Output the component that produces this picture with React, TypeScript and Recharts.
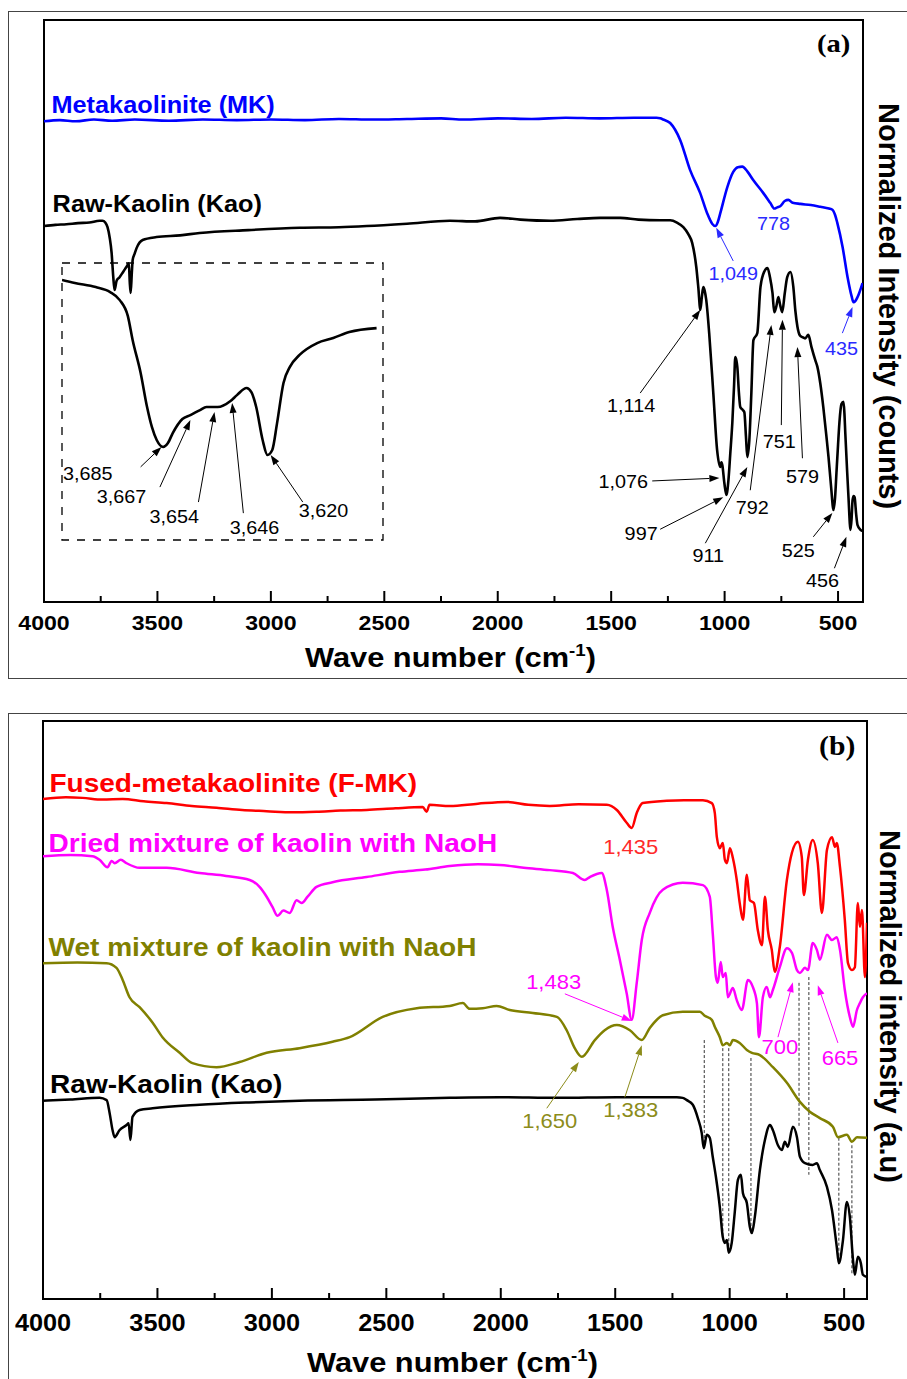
import React from 'react';
import {
    LineChart,
    Line,
    XAxis,
    YAxis,
    ReferenceArea,
    ReferenceLine,
    ReferenceDot,
} from 'recharts';

type Pt = [number, number];

// ---- panel (a): wavenumber (cm-1), normalized intensity (0-100) ----
const metakaolinite: Pt[] = [
    [4000, 82.6], [3930, 82.8], [3860, 82.6], [3780, 82.9], [3700, 82.7], [3600, 82.9],
    [3450, 82.7], [3300, 82.9], [3150, 82.8], [3000, 82.9], [2850, 82.8], [2700, 83.0],
    [2550, 82.9], [2400, 83.0], [2250, 83.1], [2150, 82.9], [2000, 83.1], [1850, 83.0],
    [1700, 83.2], [1550, 83.1], [1400, 83.2], [1300, 83.2], [1284, 83.1], [1271, 82.9],
    [1240, 82.3], [1196, 79.4], [1152, 74.2], [1108, 70.3], [1077, 66.8], [1055, 65.0],
    [1041, 64.6], [1030, 65.3], [1019, 66.8], [988, 71.3], [962, 73.9], [942, 74.7],
    [922, 74.8], [900, 74.0], [874, 72.5], [830, 70.3], [799, 68.6], [781, 67.6],
    [768, 67.8], [755, 68.0], [735, 68.9], [719, 69.1], [700, 68.6], [666, 68.4],
    [620, 68.2], [578, 67.9], [540, 67.6], [525, 67.4], [513, 66.5], [503, 65.1],
    [480, 61.0], [458, 55.8], [440, 52.5], [432, 51.5], [424, 51.7], [414, 52.4],
    [392, 54.8],
];

const rawKaolinA: Pt[] = [
    [4000, 64.6], [3950, 64.8], [3901, 64.9], [3850, 65.1], [3800, 65.2], [3755, 65.5],
    [3742, 65.5], [3730, 65.2], [3720, 64.4], [3710, 62.5], [3702, 60.0], [3695, 56.0],
    [3689, 53.6], [3680, 55.2], [3667, 55.8], [3650, 56.8], [3636, 57.6], [3626, 58.2],
    [3622, 55.0], [3618, 53.1], [3613, 56.5], [3609, 58.8], [3600, 59.9], [3592, 60.8],
    [3565, 62.2], [3504, 62.7], [3400, 63.0], [3314, 63.4], [3100, 63.9], [2872, 64.3],
    [2700, 64.4], [2577, 64.6], [2400, 65.0], [2211, 65.5], [2100, 65.4], [1990, 66.0],
    [1900, 65.7], [1769, 65.5], [1650, 65.8], [1549, 66.0], [1460, 66.0], [1380, 65.7],
    [1284, 65.6], [1240, 65.6], [1210, 65.2], [1182, 64.4], [1160, 63.2], [1143, 61.7],
    [1125, 57.6], [1116, 54.1], [1107, 50.2], [1100, 52.5], [1094, 54.1], [1088, 53.5],
    [1081, 51.9], [1068, 46.2], [1050, 36.0], [1033, 26.1], [1019, 23.2], [1014, 24.0],
    [1010, 23.5], [1001, 20.4], [992, 18.4], [983, 21.0], [975, 25.5], [966, 30.8],
    [958, 37.5], [953, 42.1], [948, 41.5], [944, 40.4], [937, 36.0], [931, 33.5],
    [920, 33.0], [913, 32.6], [906, 28.5], [900, 24.9], [891, 27.8], [882, 36.0],
    [873, 45.0], [856, 46.2], [842, 54.1], [825, 56.8], [811, 57.4], [800, 55.8],
    [789, 53.1], [781, 49.8], [772, 50.8], [763, 52.4], [755, 51.0], [746, 49.8],
    [735, 53.0], [724, 55.8], [710, 56.7], [697, 54.1], [688, 50.0], [679, 47.3],
    [668, 45.8], [657, 45.5], [645, 45.3], [631, 45.9], [617, 43.8], [600, 41.5],
    [591, 40.4], [578, 37.5], [565, 33.5], [550, 28.0], [542, 24.9], [530, 19.5],
    [520, 15.8], [513, 18.0], [507, 22.2], [500, 27.0], [494, 30.8], [485, 34.0],
    [476, 34.4], [472, 32.5], [468, 29.0], [460, 22.5], [454, 18.0], [445, 12.4],
    [440, 14.5], [436, 17.5], [431, 18.2], [427, 18.0], [420, 15.0], [414, 13.2],
    [401, 12.4], [390, 12.2],
];

// inset: OH stretching region of raw kaolin, magnified
const insetKaolin: Pt[] = [
    [3748, 93.9], [3740, 92.8], [3727, 91.3], [3718, 89.5], [3712, 86.6], [3707, 80.9],
    [3704, 72.2], [3699, 60.3], [3695, 48.0], [3692, 40.8], [3689, 36.1], [3685, 33.6],
    [3682, 35.0], [3679, 38.6], [3673, 43.7], [3668, 45.1], [3662, 46.9], [3658, 48.0],
    [3651, 48.0], [3643, 50.2], [3639, 52.3], [3633, 54.9], [3630, 53.4], [3627, 48.0],
    [3623, 36.1], [3620, 30.7], [3617, 32.5], [3614, 42.2], [3610, 56.7], [3606, 62.5],
    [3600, 66.8], [3589, 71.1], [3579, 72.9], [3569, 75.1], [3552, 76.5],
];

// ---- panel (b) ----
const fusedMK: Pt[] = [
    [4000, 86.5], [3900, 86.8], [3827, 86.7], [3740, 86.4], [3652, 86.5], [3560, 86.1],
    [3460, 85.8], [3350, 85.3], [3242, 85.0], [3130, 84.6], [3023, 84.4], [2910, 84.2],
    [2805, 84.3], [2700, 84.5], [2586, 84.6], [2460, 84.9], [2341, 85.1], [2324, 84.3],
    [2311, 85.5], [2223, 85.3], [2100, 85.7], [1974, 86.0], [1880, 85.5], [1786, 85.3],
    [1660, 85.6], [1537, 85.5], [1493, 84.6], [1450, 82.4], [1428, 81.5], [1406, 84.1],
    [1380, 85.8], [1275, 86.2], [1200, 86.3], [1117, 86.3], [1078, 85.8], [1065, 84.1],
    [1056, 79.9], [1043, 78.0], [1030, 78.9], [1021, 76.0], [1012, 75.4], [999, 78.0],
    [986, 76.3], [969, 72.5], [956, 68.5], [942, 65.6], [925, 73.4], [912, 69.0],
    [894, 68.5], [877, 63.8], [859, 61.2], [846, 69.6], [833, 63.8], [816, 60.4],
    [803, 56.6], [781, 60.9], [750, 72.5], [728, 77.2], [702, 79.1], [685, 76.5],
    [676, 69.9], [658, 76.0], [637, 79.4], [615, 75.4], [597, 66.8], [575, 77.7],
    [553, 79.9], [540, 78.2], [532, 78.9], [518, 74.7], [497, 65.6], [483, 58.1],
    [466, 56.9], [453, 57.4], [440, 68.5], [431, 64.4], [422, 67.3], [409, 55.7],
    [400, 65.1],
];

const driedMix: Pt[] = [
    [4000, 76.6], [3880, 76.8], [3784, 76.6], [3753, 76.0], [3718, 74.7], [3700, 75.8],
    [3687, 75.4], [3660, 76.0], [3635, 75.4], [3578, 74.6], [3460, 74.6], [3316, 73.7],
    [3200, 73.2], [3097, 72.5], [3054, 71.3], [3023, 69.6], [2997, 67.8], [2975, 66.3],
    [2950, 67.2], [2922, 66.8], [2892, 69.0], [2870, 68.5], [2844, 69.6], [2805, 71.3],
    [2735, 72.1], [2586, 73.0], [2442, 73.9], [2330, 74.3], [2223, 74.9], [2100, 75.2],
    [2005, 75.1], [1900, 74.6], [1786, 74.2], [1685, 73.7], [1633, 72.5], [1611, 73.0],
    [1559, 73.7], [1537, 70.8], [1511, 64.4], [1480, 58.7], [1450, 52.9], [1428, 48.3],
    [1406, 54.7], [1384, 62.1], [1349, 66.8], [1292, 70.8], [1205, 72.0], [1117, 71.6],
    [1087, 69.6], [1074, 63.3], [1060, 55.7], [1052, 54.7], [1039, 58.3], [1030, 55.7],
    [1017, 56.4], [1008, 52.2], [986, 53.8], [969, 51.7], [947, 50.0], [920, 55.2],
    [899, 54.0], [881, 51.2], [872, 45.3], [855, 52.2], [838, 54.0], [824, 52.2],
    [811, 53.5], [781, 57.4], [750, 60.7], [728, 59.9], [706, 56.9], [693, 56.4],
    [671, 57.3], [658, 56.9], [637, 61.6], [619, 60.4], [606, 58.7], [575, 63.0],
    [553, 62.1], [532, 62.6], [518, 60.4], [497, 53.5], [475, 48.8], [461, 47.1],
    [444, 50.0], [431, 51.2], [418, 52.2], [400, 52.9],
];

const wetMix: Pt[] = [
    [4000, 58.1], [3850, 58.2], [3722, 58.1], [3679, 57.3], [3652, 55.2], [3622, 52.2],
    [3578, 50.5], [3521, 47.8], [3478, 45.3], [3403, 42.6], [3347, 40.8], [3242, 40.1],
    [3141, 41.0], [3023, 42.6], [2879, 43.4], [2735, 44.5], [2660, 45.3], [2516, 48.8],
    [2367, 50.3], [2223, 50.7], [2166, 51.2], [2136, 50.2], [2079, 50.3], [2018, 50.7],
    [1961, 50.0], [1860, 49.5], [1755, 48.8], [1712, 46.5], [1677, 43.4], [1646, 41.9],
    [1589, 44.8], [1546, 46.5], [1493, 47.4], [1436, 46.5], [1384, 44.8], [1349, 46.9],
    [1292, 49.1], [1205, 49.7], [1130, 49.7], [1109, 49.0], [1078, 48.3], [1065, 47.1],
    [1043, 45.3], [1030, 43.9], [1012, 44.3], [999, 43.9], [986, 44.8], [956, 44.3],
    [925, 43.1], [903, 42.6], [868, 42.2], [811, 40.1], [750, 37.4], [693, 34.1],
    [650, 32.4], [606, 31.3], [549, 29.8], [527, 28.0], [488, 28.4], [466, 27.2],
    [444, 28.0], [400, 27.9],
];

const rawKaolinB: Pt[] = [
    [4000, 34.3], [3880, 34.5], [3753, 34.8], [3722, 34.4], [3709, 32.2], [3696, 29.2],
    [3687, 28.0], [3666, 29.2], [3635, 30.1], [3626, 30.4], [3618, 27.5], [3609, 31.5],
    [3578, 32.7], [3521, 33.0], [3316, 33.6], [3100, 34.0], [2879, 34.3], [2550, 34.5],
    [2223, 34.8], [2005, 34.9], [1750, 34.8], [1493, 34.9], [1231, 34.9], [1205, 34.8],
    [1187, 34.4], [1161, 33.6], [1139, 31.3], [1122, 28.7], [1113, 26.1], [1100, 28.4],
    [1087, 27.9], [1074, 24.6], [1060, 21.1], [1043, 15.9], [1030, 10.7], [1021, 9.7],
    [1012, 10.2], [1004, 8.0], [991, 9.7], [978, 14.9], [964, 20.6], [951, 21.5],
    [942, 18.3], [925, 16.6], [912, 12.5], [903, 11.4], [890, 14.2], [868, 22.3],
    [846, 27.5], [824, 30.1], [811, 29.2], [789, 26.6], [772, 25.8], [759, 27.2],
    [746, 26.3], [724, 29.8], [706, 28.0], [693, 24.6], [671, 23.5], [637, 23.2],
    [619, 23.5], [606, 22.3], [575, 19.4], [553, 15.4], [532, 9.0], [523, 6.2],
    [505, 10.2], [488, 16.8], [475, 14.2], [461, 6.7], [453, 4.2], [440, 7.3],
    [427, 6.2], [418, 4.2], [400, 3.8],
];

// band positions marked with dotted guides in (b): [wn, top, bottom]
const guideLines: [number, number, number][] = [
    [1111, 44.8, 26.3], [1030, 43.4, 10.7], [1004, 43.4, 8.0], [907, 41.7, 11.9],
    [697, 54.7, 29.8], [654, 55.7, 21.5], [523, 27.9, 6.7], [466, 26.6, 4.2],
];

const ticksA = [4000, 3750, 3500, 3250, 3000, 2750, 2500, 2250, 2000, 1750, 1500, 1250, 1000, 750, 500];
const ticksB = ticksA;

type Note = { text: string; at: Pt; from?: Pt; to?: Pt; color: string };

const BLUE = '#0000ff';
const RED = '#ff0000';
const MAGENTA = '#ff00ff';
const OLIVE = '#808000';

const notesA: Note[] = [
    { text: '1,049', at: [962, 55.3], from: [962, 58.6], to: [1037, 64.3], color: '#2a2aff' },
    { text: '778', at: [785, 63.9], color: '#2a2aff' },
    { text: '435', at: [485, 42.4], from: [481, 46.2], to: [436, 50.7], color: '#2a2aff' },
    { text: '1,114', at: [1412, 32.6], from: [1372, 35.9], to: [1107, 50.2], color: '#000' },
    { text: '1,076', at: [1447, 19.6], from: [1319, 20.8], to: [1023, 21.3], color: '#000' },
    { text: '997', at: [1368, 10.7], from: [1284, 12.5], to: [1006, 18.0], color: '#000' },
    { text: '911', at: [1072, 6.9], from: [1085, 10.1], to: [900, 23.2], color: '#000' },
    { text: '792', at: [878, 15.1], from: [887, 19.2], to: [794, 47.6], color: '#000' },
    { text: '751', at: [759, 26.5], from: [750, 30.4], to: [745, 48.5], color: '#000' },
    { text: '579', at: [657, 20.4], from: [657, 24.7], to: [679, 43.8], color: '#000' },
    { text: '525', at: [675, 7.7], from: [609, 11.2], to: [525, 15.3], color: '#000' },
    { text: '456', at: [569, 2.6], from: [516, 5.8], to: [463, 11.2], color: '#000' },
];

const notesInset: Note[] = [
    { text: '3,685', at: [3732, 21.7], from: [3699, 26.4], to: [3686, 33.6], color: '#000' },
    { text: '3,667', at: [3711, 13.4], from: [3687, 19.1], to: [3668, 43.3], color: '#000' },
    { text: '3,654', at: [3678, 6.1], from: [3663, 13.7], to: [3653, 46.2], color: '#000' },
    { text: '3,646', at: [3628, 2.2], from: [3635, 9.7], to: [3642, 49.5], color: '#000' },
    { text: '3,620', at: [3585, 8.3], from: [3598, 13.7], to: [3618, 30.7], color: '#000' },
];

const notesB: Note[] = [
    { text: '1,435', at: [1432, 77.0], color: '#ff2a2a' },
    { text: '1,483', at: [1769, 53.6], from: [1720, 52.8], to: [1428, 48.1], color: MAGENTA },
    { text: '700', at: [781, 42.4], from: [789, 45.3], to: [724, 54.8], color: MAGENTA },
    { text: '665', at: [518, 40.5], from: [527, 44.3], to: [615, 54.3], color: MAGENTA },
    { text: '1,650', at: [1786, 29.6], from: [1799, 33.0], to: [1659, 41.0], color: '#8c8c1a' },
    { text: '1,383', at: [1432, 31.5], from: [1458, 34.9], to: [1384, 43.9], color: '#8c8c1a' },
];

const SANS = '"Liberation Sans", Arial, sans-serif';
const SERIF = '"Liberation Serif", "Times New Roman", serif';

const rows = (pts: Pt[]) => pts.map(([wn, v]) => ({ wn, v }));

// text slightly widened, like the source figure
function SText({ x, y, size, color = '#000', weight = 400, anchor = 'middle', family = SANS, children }: any) {
    return (
        <text
            transform={`translate(${x},${y}) scale(1.1,1)`}
            fontSize={size}
            fill={color}
            fontWeight={weight}
            textAnchor={anchor}
            fontFamily={family}
        >
            {children}
        </text>
    );
}

const axisTick = (size: number, dy: number) => (props: any) => {
    const { x, y, payload } = props;
    const major = payload.value % 500 === 0;
    return (
        <g>
            <line x1={x} x2={x} y1={y} y2={y - (major ? 11 : 6)} stroke="#000" strokeWidth={2} />
            {major && (
                <SText x={x} y={y + dy} size={size} weight={700}>
                    {payload.value}
                </SText>
            )}
        </g>
    );
};

const arrowShape = (color: string) => (p: any) => {
    const { x1, y1, x2, y2 } = p;
    const a = Math.atan2(y2 - y1, x2 - x1);
    const L = 10;
    const W = 3.5;
    const bx = x2 - L * Math.cos(a);
    const by = y2 - L * Math.sin(a);
    const pts = `${x2},${y2} ${bx - W * Math.sin(a)},${by + W * Math.cos(a)} ${bx + W * Math.sin(a)},${by - W * Math.cos(a)}`;
    return (
        <g>
            <line x1={x1} y1={y1} x2={bx} y2={by} stroke={color} strokeWidth={1} />
            <polygon points={pts} fill={color} />
        </g>
    );
};

const textShape = (text: string, color: string, size: number, anchor = 'middle', weight = 400) => (p: any) => (
    <SText x={p.cx} y={p.cy} size={size} color={color} anchor={anchor} weight={weight}>
        {text}
    </SText>
);

function renderNotes(notes: Note[], size: number, prefix: string) {
    const out: React.ReactNode[] = [];
    notes.forEach((n, i) => {
        if (n.from && n.to) {
            out.push(
                <ReferenceLine
                    key={`${prefix}-l${i}`}
                    segment={[{ x: n.from[0], y: n.from[1] }, { x: n.to[0], y: n.to[1] }]}
                    stroke={n.color}
                    shape={arrowShape(n.color)}
                />
            );
        }
        out.push(
            <ReferenceDot
                key={`${prefix}-t${i}`}
                x={n.at[0]}
                y={n.at[1]}
                r={0}
                shape={textShape(n.text, n.color, size)}
            />
        );
    });
    return out;
}

function seriesName(key: string, wn: number, v: number, text: string, color: string, size: number) {
    return <ReferenceDot key={key} x={wn} y={v} r={0} shape={textShape(text, color, size, 'start', 700)} />;
}

export default function App() {
    return (
        <div style={{ position: 'relative', width: 907, height: 1379, overflow: 'hidden', background: '#fff' }}>
            <style>{'html,body{margin:0;padding:0;overflow:hidden;}'}</style>

            <div style={{ position: 'absolute', left: 8, top: 11, width: 905, height: 666, border: '1px solid #444' }} />
            <div style={{ position: 'absolute', left: 8, top: 713, width: 905, height: 700, border: '1px solid #444' }} />

            {/* panel (a) */}
            <div style={{ position: 'absolute', left: 0, top: 0 }}>
                <LineChart width={907} height={680} margin={{ top: 20, right: 44, bottom: 48, left: 44 }}>
                    <XAxis
                        type="number"
                        dataKey="wn"
                        domain={[390, 4000]}
                        reversed
                        allowDataOverflow
                        ticks={ticksA}
                        interval={0}
                        tickSize={0}
                        tickMargin={0}
                        axisLine={false}
                        tickLine={false}
                        tick={axisTick(21, 28)}
                        height={30}
                    />
                    <YAxis type="number" domain={[0, 100]} hide allowDataOverflow />
                    <ReferenceArea x1={390} x2={4000} y1={0} y2={100} fill="none" stroke="#000" strokeWidth={2} ifOverflow="visible" />
                    <Line data={rows(metakaolinite)} dataKey="v" type="monotone" stroke={BLUE} strokeWidth={2.6} dot={false} isAnimationActive={false} />
                    <Line data={rows(rawKaolinA)} dataKey="v" type="monotone" stroke="#000" strokeWidth={2.6} dot={false} isAnimationActive={false} />
                    {seriesName('nA1', 3967, 84.0, 'Metakaolinite (MK)', BLUE, 23)}
                    {seriesName('nA2', 3962, 67.0, 'Raw-Kaolin (Kao)', '#000', 23)}
                    {renderNotes(notesA, 18, 'a')}
                </LineChart>
            </div>

            {/* inset of panel (a) */}
            <div style={{ position: 'absolute', left: 58, top: 259 }}>
                <LineChart width={329} height={285} margin={{ top: 4, right: 4, bottom: 4, left: 4 }}>
                    <XAxis type="number" dataKey="wn" domain={[3548, 3748]} reversed allowDataOverflow hide />
                    <YAxis type="number" domain={[0, 100]} hide allowDataOverflow />
                    <ReferenceArea
                        x1={3548}
                        x2={3748}
                        y1={0}
                        y2={100}
                        fill="none"
                        stroke="#000"
                        strokeWidth={1.3}
                        strokeDasharray="8 8"
                        ifOverflow="visible"
                    />
                    <Line data={rows(insetKaolin)} dataKey="v" type="monotone" stroke="#000" strokeWidth={2.6} dot={false} isAnimationActive={false} />
                    {renderNotes(notesInset, 18, 'i')}
                </LineChart>
            </div>

            {/* panel (b) */}
            <div style={{ position: 'absolute', left: 0, top: 700 }}>
                <LineChart width={907} height={679} margin={{ top: 21, right: 40, bottom: 50, left: 43 }}>
                    <XAxis
                        type="number"
                        dataKey="wn"
                        domain={[400, 4000]}
                        reversed
                        allowDataOverflow
                        ticks={ticksB}
                        interval={0}
                        tickSize={0}
                        tickMargin={0}
                        axisLine={false}
                        tickLine={false}
                        tick={axisTick(23, 32)}
                        height={30}
                    />
                    <YAxis type="number" domain={[0, 100]} hide allowDataOverflow />
                    <ReferenceArea x1={400} x2={4000} y1={0} y2={100} fill="none" stroke="#000" strokeWidth={2} ifOverflow="visible" />
                    {guideLines.map(([wn, top, bottom], i) => (
                        <ReferenceLine
                            key={`g${i}`}
                            segment={[{ x: wn, y: top }, { x: wn, y: bottom }]}
                            stroke="#000"
                            strokeWidth={0.8}
                            strokeDasharray="3 2"
                        />
                    ))}
                    <Line data={rows(fusedMK)} dataKey="v" type="monotone" stroke={RED} strokeWidth={2.5} dot={false} isAnimationActive={false} />
                    <Line data={rows(driedMix)} dataKey="v" type="monotone" stroke={MAGENTA} strokeWidth={2.5} dot={false} isAnimationActive={false} />
                    <Line data={rows(wetMix)} dataKey="v" type="monotone" stroke={OLIVE} strokeWidth={2.5} dot={false} isAnimationActive={false} />
                    <Line data={rows(rawKaolinB)} dataKey="v" type="monotone" stroke="#000" strokeWidth={2.5} dot={false} isAnimationActive={false} />
                    {seriesName('nB1', 3972, 87.7, 'Fused-metakaolinite (F-MK)', RED, 25.5)}
                    {seriesName('nB2', 3976, 77.3, 'Dried mixture of kaolin with NaoH', MAGENTA, 25.5)}
                    {seriesName('nB3', 3976, 59.3, 'Wet mixture of kaolin with NaoH', OLIVE, 25.5)}
                    {seriesName('nB4', 3969, 35.6, 'Raw-Kaolin (Kao)', '#000', 25.5)}
                    {renderNotes(notesB, 20, 'b')}
                </LineChart>
            </div>

            {/* titles and panel letters */}
            <svg width={907} height={1379} style={{ position: 'absolute', left: 0, top: 0, pointerEvents: 'none' }}>
                <SText x={817} y={52} size={26} weight={700} anchor="start" family={SERIF}>(a)</SText>
                <SText x={819} y={755} size={27} weight={700} anchor="start" family={SERIF}>(b)</SText>
                <SText x={305} y={667} size={28} weight={700} anchor="start">
                    <tspan>Wave number (cm</tspan>
                    <tspan dy={-11} fontSize={17}>-1</tspan>
                    <tspan dy={11}>)</tspan>
                </SText>
                <SText x={307} y={1372} size={28} weight={700} anchor="start">
                    <tspan>Wave number (cm</tspan>
                    <tspan dy={-11} fontSize={17}>-1</tspan>
                    <tspan dy={11}>)</tspan>
                </SText>
                <text transform="translate(879,103) rotate(90)" fontSize={29} fontWeight={700} fontFamily={SANS} fill="#000">
                    Normalized Intensity (counts)
                </text>
                <text transform="translate(880,830) rotate(90)" fontSize={29} fontWeight={700} fontFamily={SANS} fill="#000">
                    Normalized intensity (a.u)
                </text>
            </svg>
        </div>
    );
}
